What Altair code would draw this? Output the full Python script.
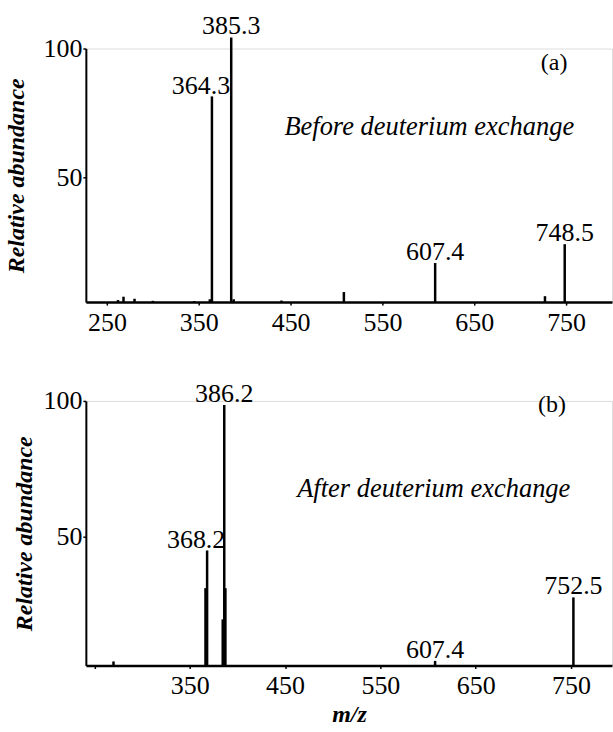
import altair as alt
import pandas as pd

FONT = "'Liberation Serif', 'Times New Roman', serif"

# Panel (a): before deuterium exchange
mz_a = [262, 268, 280, 300, 345, 362, 364.3, 385.3, 388, 440, 508, 607.4, 727, 748.5]
ab_a = [2.3, 3.6, 2.8, 2.0, 1.9, 2.6, 81.4, 104.3, 2.6, 2.1, 5.4, 16.7, 3.8, 24.0]
lab_a_text = ["385.3", "607.4", "748.5"]
lab_a_mz = [385.3, 607.4, 748.5]
lab_a_ab = [104.3, 16.7, 24.0]
lab_a2_text = ["364.3"]
lab_a2_mz = [364.3]
lab_a2_ab = [81.4]

# Panel (b): after deuterium exchange
mz_b = [270, 366.5, 368.2, 384.6, 386.2, 387.4, 607.4, 752.5]
ab_b = [4.0, 31.0, 44.9, 19.5, 98.5, 31.0, 4.2, 27.6]
lab_b_text = ["386.2", "607.4", "752.5"]
lab_b_mz = [386.2, 607.4, 752.5]
lab_b_ab = [98.5, 4.2, 27.6]
lab_b2_text = ["368.2"]
lab_b2_mz = [368.2]
lab_b2_ab = [44.9]

tag_a = {"text": ["(a)"], "mz": [737], "ab": [91.5]}
note_a = {"text": ["Before deuterium exchange"], "mz": [601], "ab": [66.5]}
tag_b = {"text": ["(b)"], "mz": [730], "ab": [96.0]}
note_b = {"text": ["After deuterium exchange"], "mz": [606], "ab": [64.5]}

xticks = [250, 350, 450, 550, 650, 750]
yticks = [50, 100]


def panel(mz, ab, lt, lm, la, lt2, lm2, la2, tag, note, xdom, ymin, height, xtitle, hide250, tpad):
    df = pd.DataFrame({"mz": mz, "ab": ab})
    ldf = pd.DataFrame({"mz": lm, "ab": la, "t": lt})
    ldf2 = pd.DataFrame({"mz": lm2, "ab": la2, "t": lt2})
    tdf = pd.DataFrame({"mz": tag["mz"], "ab": tag["ab"], "t": tag["text"]})
    ndf = pd.DataFrame({"mz": note["mz"], "ab": note["ab"], "t": note["text"]})
    xs = alt.Scale(domain=xdom, nice=False, zero=False)
    ys = alt.Scale(domain=[ymin, 100], nice=False, zero=False)
    xaxis = alt.Axis(
        values=xticks, grid=False, tickSize=3, labelPadding=4, domainWidth=2.5,
        tickWidth=1.5, domainColor="black", tickColor="black",
        labelFont=FONT, labelFontSize=26, labelColor="black",
        titleFont=FONT, titleFontSize=24, titleFontStyle="italic", titleFontWeight="bold",
        titleColor="black", titlePadding=4,
        labelExpr="datum.value == 250 ? '' : datum.label" if hide250 else "datum.label",
    )
    yaxis = alt.Axis(
        values=yticks, grid=False, tickSize=3, labelPadding=1, domainWidth=2,
        tickWidth=1.5, domainColor="black", tickColor="black",
        labelFont=FONT, labelFontSize=26, labelColor="black",
        titleFont=FONT, titleFontSize=24, titleFontStyle="italic", titleFontWeight="bold",
        titleColor="black", titlePadding=tpad,
    )
    bars = alt.Chart(df).mark_rule(color="black", strokeWidth=2.5).encode(
        x=alt.X("mz:Q", scale=xs, axis=xaxis, title=xtitle if xtitle else None),
        y=alt.Y("ab:Q", scale=ys, axis=yaxis, title="Relative abundance"),
        y2=alt.datum(ymin),
    )
    labels = alt.Chart(ldf).mark_text(
        font=FONT, fontSize=26, color="black", baseline="alphabetic", dy=-3
    ).encode(x="mz:Q", y="ab:Q", text="t:N")
    labels2 = alt.Chart(ldf2).mark_text(
        font=FONT, fontSize=26, color="black", baseline="alphabetic", dy=-2, dx=-11
    ).encode(x="mz:Q", y="ab:Q", text="t:N")
    tags = alt.Chart(tdf).mark_text(
        font=FONT, fontSize=24, color="black", baseline="alphabetic"
    ).encode(x="mz:Q", y="ab:Q", text="t:N")
    notes = alt.Chart(ndf).mark_text(
        font=FONT, fontSize=26.5, fontStyle="italic", color="black", baseline="alphabetic"
    ).encode(x="mz:Q", y="ab:Q", text="t:N")
    return alt.layer(bars, labels, labels2, tags, notes).properties(width=527, height=height)


pa = panel(mz_a, ab_a, lab_a_text, lab_a_mz, lab_a_ab, lab_a2_text, lab_a2_mz, lab_a2_ab,
           tag_a, note_a, [227, 800], 1.5, 254, None, False, 14)
pb = panel(mz_b, ab_b, lab_b_text, lab_b_mz, lab_b_ab, lab_b2_text, lab_b2_mz, lab_b2_ab,
           tag_b, note_b, [241, 793], 2.5, 265, "m/z", True, 6)

chart = alt.vconcat(pa, pb, spacing=99, bounds="flush").properties(
    padding={"left": 4, "top": 12, "right": 0, "bottom": 0}
).configure_view(stroke=None).configure(background="white")

chart.save("out.html", embed_options={"renderer": "svg", "actions": False})
